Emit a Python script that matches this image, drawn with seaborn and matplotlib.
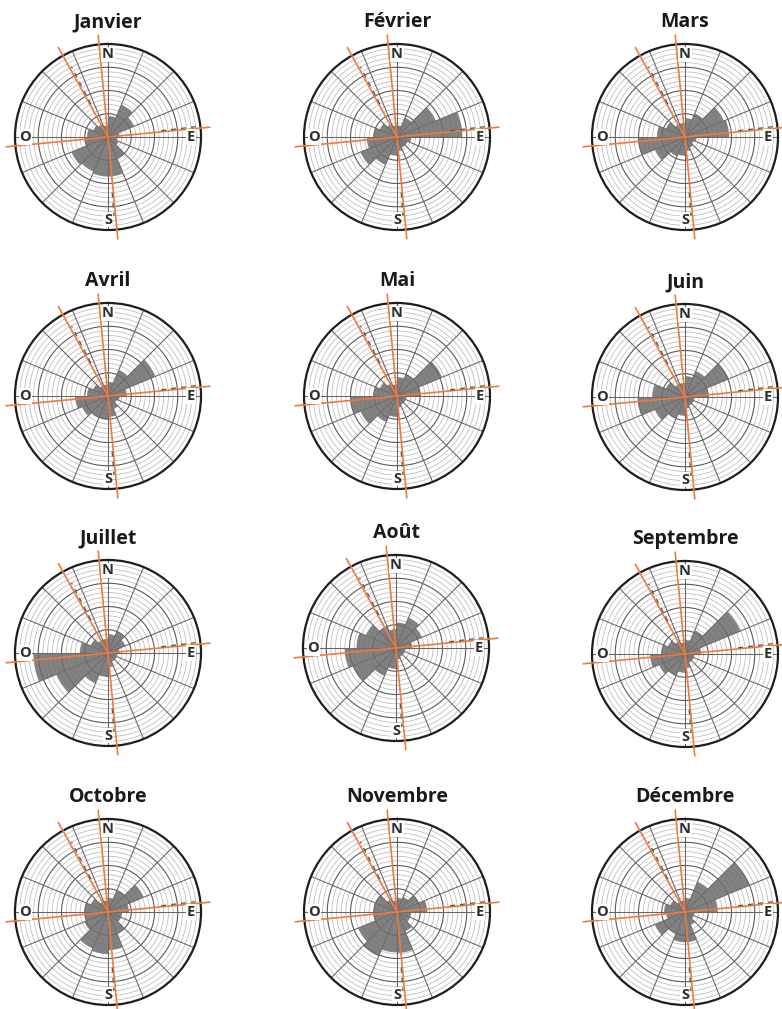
import numpy as np
import matplotlib
matplotlib.use("Agg")
import matplotlib.pyplot as plt
import seaborn as sns

# ---------------- data ----------------
months = ["Janvier", "Février", "Mars", "Avril", "Mai", "Juin",
          "Juillet", "Août", "Septembre", "Octobre", "Novembre", "Décembre"]
# 16 sectors, clockwise from north (0-22.5°, 22.5-45°, ...)
sector_start_deg = [0, 22.5, 45, 67.5, 90, 112.5, 135, 157.5,
                    180, 202.5, 225, 247.5, 270, 292.5, 315, 337.5]

janvier   = [4.5, 7.5, 6, 2.5, 2, 2.5, 5, 8.5, 8.5, 8, 8.5, 5, 4.5, 3.5, 3, 2.5]
fevrier   = [2.5, 4.5, 9, 14, 3, 2.5, 2.5, 3, 4, 6.5, 8.5, 6.5, 5, 4, 3, 2.5]
mars      = [4, 5.5, 9, 9.5, 2.5, 2, 2.5, 3, 4, 4.5, 7, 10, 6, 4.5, 3, 3]
avril     = [3, 6, 11, 4, 2.5, 2, 3, 4.5, 5, 5, 6, 7, 4.5, 3.5, 2.5, 2.5]
mai       = [4, 5, 10.5, 5, 2, 2, 2, 2.5, 4.5, 6, 8.5, 10, 5, 4, 3, 2.5]
juin      = [4.5, 6, 10.2, 5, 2, 2, 2, 2.5, 4, 5, 7, 10.2, 7, 4.5, 3, 3]
juillet   = [4, 5, 4, 2.5, 2, 2, 2, 3, 5, 7, 12, 16, 6, 4, 3, 3]
aout      = [5.5, 7, 6, 3.5, 2, 2, 2, 2.5, 4.5, 6.5, 10, 11, 8.5, 7, 5, 4]
septembre = [3, 5.5, 12.9, 3.5, 2, 2, 2, 3, 4, 5, 6, 7.5, 5, 4, 3, 2.5]
octobre   = [3, 5, 8.3, 4.5, 3, 3, 5, 8.2, 9, 8.5, 5.5, 5, 5, 4, 2.5, 2.5]
novembre  = [3, 3.5, 5, 6.5, 3, 3, 4.5, 8.8, 8.7, 10.3, 9, 5, 5, 5, 3, 2.5]
decembre  = [3, 7, 15, 7, 2, 2, 3, 6.5, 6.5, 5, 7, 4, 4.5, 3.5, 2.5, 2.5]

month_values = [janvier, fevrier, mars, avril, mai, juin,
                juillet, aout, septembre, octobre, novembre, decembre]

cardinal_labels = ["N", "E", "S", "O"]
cardinal_bearings = [0, 90, 180, 270]

# ---------------- style ----------------
sns.set_theme(style="white")
plt.rcParams['font.family'] = ['Open Sans', 'DejaVu Sans']

fill_color = sns.color_palette(["#6c6c6c"])[0]
orange = "#ee7a3c"

W, H = 782, 1009
fig = plt.figure(figsize=(W / 100, H / 100), dpi=100)
fig.patch.set_facecolor("white")

centers = [(108, 137), (397, 137), (685, 137),
           (108, 396), (397, 396), (685, 397),
           (108, 653), (396, 648), (685, 654),
           (108, 912), (397, 912), (685, 912)]
R = 93
RMAX = 20
decl = -5.5

tt = np.linspace(0, 2 * np.pi, 721)
for name, vals, (cx, cy) in zip(months, month_values, centers):
    ax = fig.add_axes([(cx - R) / W, 1 - (cy + R) / H, 2 * R / W, 2 * R / H],
                      projection="polar")
    ax.set_theta_zero_location("N")
    ax.set_theta_direction(-1)
    ax.set_ylim(0, RMAX)
    ax.set_facecolor("white")
    ax.grid(False)
    ax.set_xticks([])
    ax.set_yticks([])

    # grid rings
    for r in range(1, RMAX):
        major = (r % 5 == 0)
        ax.plot(tt, np.full_like(tt, r), color="#5a5a5a" if major else "#b4b4b4",
                lw=0.8 if major else 0.5, zorder=1)
    # radial lines
    for a in np.arange(0, 360, 22.5):
        ax.plot([np.deg2rad(a)] * 2, [0, RMAX], color="#666666", lw=0.75, zorder=1)

    # wind-rose sectors
    theta = np.deg2rad(np.array(sector_start_deg) + 11.25)
    ax.bar(theta, vals, width=np.deg2rad(22.5), color=fill_color, alpha=0.85,
           edgecolor="none", zorder=2)

    ax.spines["polar"].set_linewidth(1.6)
    ax.spines["polar"].set_color("#1e1e1e")

    # orange reference lines
    ext = 22
    for a in (decl, decl + 90):
        t1, t2 = np.deg2rad(a), np.deg2rad(a + 180)
        ax.plot([t1, t1, t2, t2], [ext, 0, 0, ext], color=orange, lw=1.2,
                clip_on=False, zorder=5)
    t3 = np.deg2rad(331)
    ax.plot([t3, t3], [ext, 0], color=orange, lw=1.2, clip_on=False, zorder=5)

    # small dark marks along the orange lines
    for a, r0, r1 in ((decl + 90 - 1.2, 11.5, 19), (decl + 180 + 1.2, 12, 17),
                      (331 + 1.5, 8, 17)):
        ax.plot([np.deg2rad(a)] * 2, [r0, r1], color="#555555", lw=0.9,
                ls=(0, (4, 4)), zorder=6)

    # cardinal labels
    for lbl, b in zip(cardinal_labels, cardinal_bearings):
        ax.text(np.deg2rad(b), 17.8, lbl, ha="center", va="center",
                fontsize=10.5, fontweight="bold", color="#2e2e2e", zorder=7,
                bbox=dict(boxstyle="square,pad=0.05", fc="white", ec="none"))

    fig.text(cx / W, 1 - (cy - 115) / H, name, ha="center", va="center",
             fontsize=14, fontweight="bold", color="#1a1a1a")

fig.savefig("out.png", dpi=100, facecolor="white")
